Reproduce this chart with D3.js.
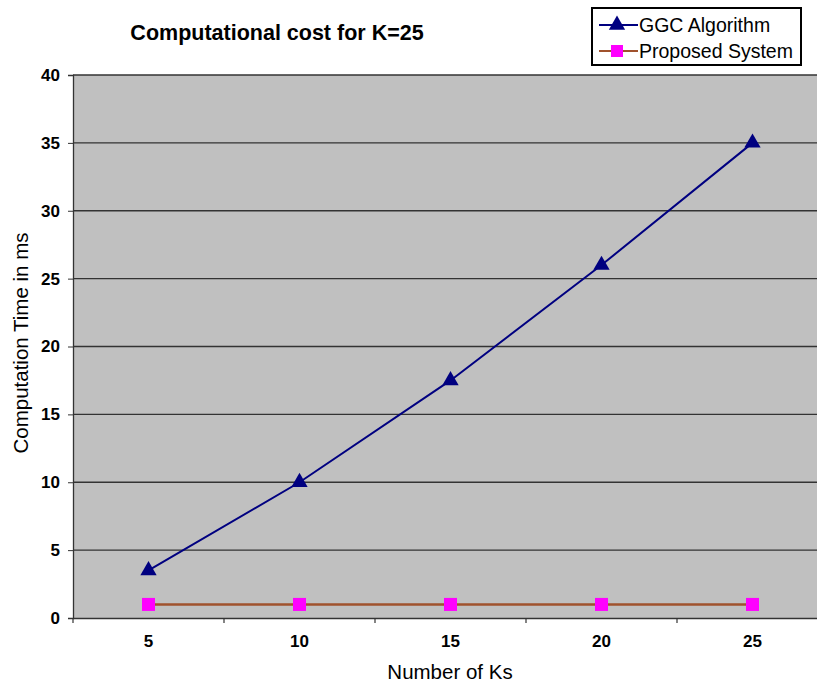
<!DOCTYPE html>
<html>
<head>
<meta charset="utf-8">
<script src="https://cdn.jsdelivr.net/npm/d3@7"></script>
<style>
  body { margin: 0; background: #fff; }
  text { font-family: "Liberation Sans", Arial, sans-serif; }
</style>
</head>
<body>
<svg width="817" height="684"></svg>
<script>
// Categories on x axis
var ks = [5, 10, 15, 20, 25];
// Series values
var ggc = [3.5, 10, 17.5, 26, 35];
var proposed = [1, 1, 1, 1, 1];
var yTicks = [0, 5, 10, 15, 20, 25, 30, 35, 40];

var svg = d3.select('svg');
var plotLeft = 73, plotTop = 75, plotBottom = 618, plotRight = 828;

// band scale so points sit in the middle of each category
var x = d3.scaleBand().domain(ks).range([plotLeft, plotRight]);
var y = d3.scaleLinear().domain([0, 40]).range([plotBottom, plotTop]);
var cx = d => x(d) + x.bandwidth() / 2;

// plot background
svg.append('rect')
    .attr('x', plotLeft).attr('y', plotTop)
    .attr('width', plotRight - plotLeft).attr('height', plotBottom - plotTop)
    .attr('fill', '#c0c0c0');

// gridlines
svg.append('g').selectAll('line').data(yTicks.filter(d => d > 0))
  .enter().append('line')
    .attr('x1', plotLeft).attr('x2', plotRight)
    .attr('y1', d => y(d)).attr('y2', d => y(d))
    .attr('stroke', '#333').attr('stroke-width', 1.3);

// y axis
var yAxis = svg.append('g')
    .attr('transform', 'translate(' + plotLeft + ',0)')
    .call(d3.axisLeft(y).tickValues(yTicks).tickSize(5).tickPadding(8));
yAxis.select('.domain').attr('stroke', '#333').attr('stroke-width', 1.3);
yAxis.selectAll('.tick line').attr('stroke', '#333');
yAxis.selectAll('text')
    .style('font-family', '"Liberation Sans", Arial, sans-serif')
    .style('font-size', '17px').style('font-weight', 'bold').attr('fill', '#000');

// x axis
var xAxis = svg.append('g')
    .attr('transform', 'translate(0,' + plotBottom + ')')
    .call(d3.axisBottom(x).tickSize(0).tickPadding(17));
xAxis.select('.domain').attr('stroke', '#333').attr('stroke-width', 1.3);
xAxis.selectAll('text')
    .style('font-family', '"Liberation Sans", Arial, sans-serif')
    .style('font-size', '17px').style('font-weight', 'bold').attr('fill', '#000');
// tick marks between categories
svg.append('g').selectAll('line').data(ks)
  .enter().append('line')
    .attr('x1', d => x(d)).attr('x2', d => x(d))
    .attr('y1', plotBottom).attr('y2', plotBottom + 5)
    .attr('stroke', '#333').attr('stroke-width', 1.2);

// lines
var line = d3.line().x((d, i) => cx(ks[i])).y(d => y(d));

svg.append('path').datum(proposed)
    .attr('d', line).attr('fill', 'none')
    .attr('stroke', '#a0522d').attr('stroke-width', 2.5);

svg.append('path').datum(ggc)
    .attr('d', line).attr('fill', 'none')
    .attr('stroke', '#000080').attr('stroke-width', 2);

// markers
var tri = d3.symbol().type(d3.symbolTriangle).size(115);
svg.append('g').selectAll('path').data(ggc)
  .enter().append('path')
    .attr('d', tri)
    .attr('transform', (d, i) => 'translate(' + cx(ks[i]) + ',' + y(d) + ')')
    .attr('fill', '#000080');

svg.append('g').selectAll('rect').data(proposed)
  .enter().append('rect')
    .attr('x', (d, i) => cx(ks[i]) - 6.5).attr('y', d => y(d) - 6.5)
    .attr('width', 13).attr('height', 13)
    .attr('fill', '#ff00ff');

// titles
svg.append('text')
    .attr('x', 277).attr('y', 40).attr('text-anchor', 'middle')
    .style('font-size', '21.5px').style('font-weight', 'bold')
    .text('Computational cost for K=25');

svg.append('text')
    .attr('transform', 'translate(28,343) rotate(-90)')
    .attr('text-anchor', 'middle')
    .style('font-size', '20.5px')
    .text('Computation Time in ms');

svg.append('text')
    .attr('x', 450).attr('y', 679).attr('text-anchor', 'middle')
    .style('font-size', '20.5px')
    .text('Number of Ks');

// legend
var legend = svg.append('g');
legend.append('rect')
    .attr('x', 592).attr('y', 8).attr('width', 209).attr('height', 57)
    .attr('fill', '#fff').attr('stroke', '#000').attr('stroke-width', 2);

var items = [
  {name: 'GGC Algorithm', color: '#000080', marker: 'tri'},
  {name: 'Proposed System', color: '#a0522d', marker: 'sq'}
];
items.forEach(function(it, i) {
  var yy = 25 + i * 26;
  legend.append('line')
      .attr('x1', 599).attr('x2', 638).attr('y1', yy).attr('y2', yy)
      .attr('stroke', it.color).attr('stroke-width', 2);
  if (it.marker == 'tri') {
    legend.append('path').attr('d', tri)
        .attr('transform', 'translate(617,' + yy + ')')
        .attr('fill', '#000080');
  } else {
    legend.append('rect')
        .attr('x', 611).attr('y', yy - 6).attr('width', 12).attr('height', 12)
        .attr('fill', '#ff00ff');
  }
  legend.append('text')
      .attr('x', 639).attr('y', yy + 7)
      .style('font-size', '19.5px')
      .text(it.name);
});
</script>
</body>
</html>
